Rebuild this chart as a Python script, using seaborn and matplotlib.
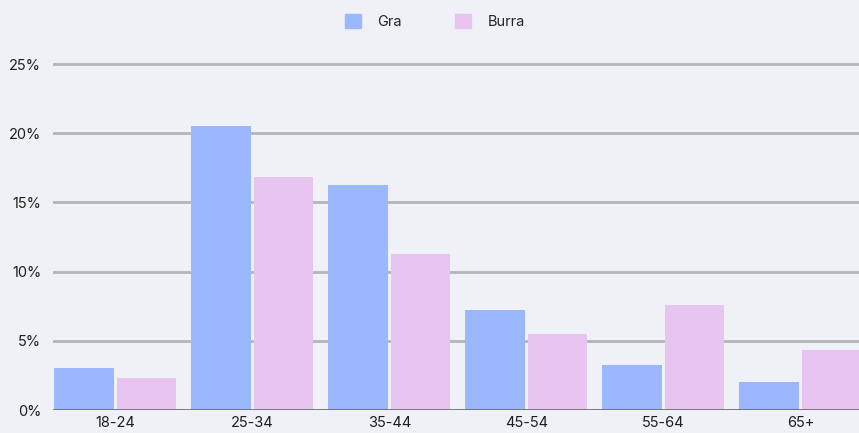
import pandas as pd
import numpy as np
import matplotlib
matplotlib.use('Agg')
import matplotlib.pyplot as plt
import seaborn as sns
from matplotlib.ticker import FuncFormatter

# Age groups and share of respondents (%)
age_groups = ['18-24', '25-34', '35-44', '45-54', '55-64', '65+']
gra = [3.0, 20.5, 16.25, 7.2, 3.25, 2.0]
burra = [2.3, 16.8, 11.3, 5.5, 7.6, 4.3]
series_names = ['Gra', 'Burra']
y_ticks = [0, 5, 10, 15, 20, 25]

bg = '#f0f1f6'
colors = ['#9bb7fd', '#e8c4f1']

df = pd.DataFrame({
    'age': age_groups * 2,
    'share': gra + burra,
    'series': [series_names[0]] * len(age_groups) + [series_names[1]] * len(age_groups),
})

sns.set_theme(style='white')
plt.rcParams['font.family'] = ['Inter', 'DejaVu Sans']

fig = plt.figure(figsize=(8.59, 4.33), dpi=100, facecolor=bg)
ax = fig.add_axes([53 / 859, 23 / 433, 1 - 53 / 859, (26 * 13.84) / 433])
ax.set_facecolor(bg)

sns.barplot(data=df, x='age', y='share', hue='series', palette=colors,
            saturation=1, width=0.911, gap=0.048, edgecolor='none', linewidth=0,
            ax=ax, legend=False, zorder=3)

ax.set_xlim(-0.4555, 5.428)
ax.set_ylim(0, 26)
ax.set_yticks(y_ticks)
ax.yaxis.set_major_formatter(FuncFormatter(lambda v, p: f'{v:.0f}%'))
for y in y_ticks[1:]:
    ax.axhline(y, color='#b5b5b9', lw=2, zorder=1)
ax.axhline(0, color='#6e6e70', lw=2, zorder=4)

for s in ax.spines.values():
    s.set_visible(False)
ax.tick_params(axis='both', length=0, labelsize=10.5, colors='#1e1e1e')
ax.tick_params(axis='y', pad=8.5)
ax.tick_params(axis='x', pad=4.5)
ax.set_xlabel('')
ax.set_ylabel('')

handles = [plt.Rectangle((0, 0), 1, 1, color=c) for c in colors]
fig.legend(handles, series_names, loc='upper center', bbox_to_anchor=(0.506, 1.0),
           ncol=2, frameon=False, fontsize=10.5, handlelength=1.15, handleheight=1.15,
           handletextpad=1.1, columnspacing=3.6, borderaxespad=0.55)

plt.savefig('out.png', dpi=100, facecolor=bg)
